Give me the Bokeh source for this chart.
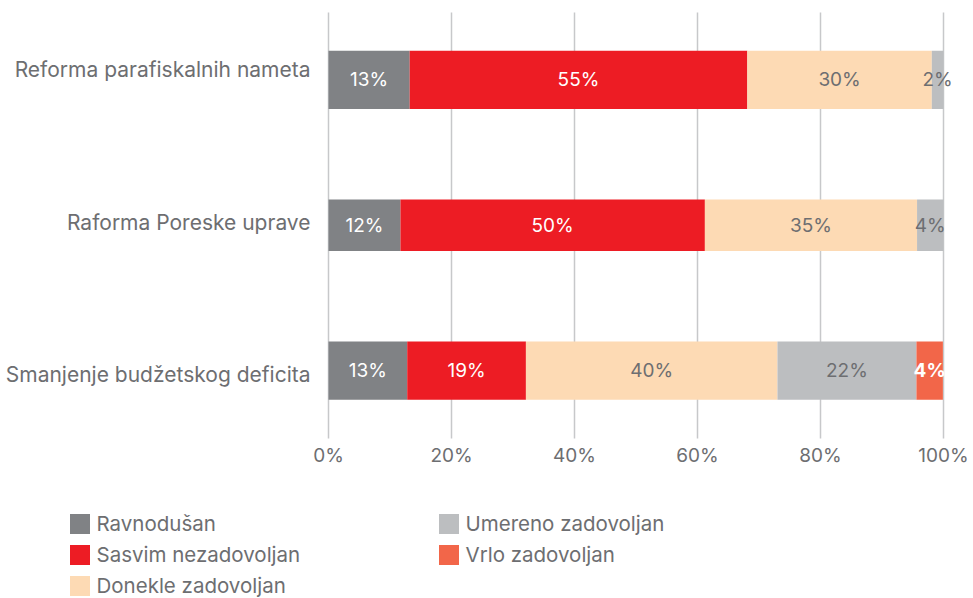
import numpy as np
from bokeh.plotting import figure
from bokeh.models import (ColumnDataSource, Range1d, FixedTicker, PrintfTickFormatter,
                          Legend, LegendItem, Grid, LinearAxis)
from bokeh.core.properties import value
from bokeh.embed import file_html
from bokeh.resources import INLINE

# ---------------- data ----------------
categories = ["Reforma parafiskalnih nameta", "Raforma Poreske uprave", "Smanjenje budžetskog deficita"]
series = ["Ravnodušan", "Sasvim nezadovoljan", "Donekle zadovoljan", "Umereno zadovoljan", "Vrlo zadovoljan"]
ravnodusan = [13.2, 11.7, 12.8]
sasvim_nezadovoljan = [54.9, 49.5, 19.3]
donekle_zadovoljan = [30.0, 34.5, 40.9]
umereno_zadovoljan = [1.9, 4.3, 22.6]
vrlo_zadovoljan = [0.0, 0.0, 4.3]
# printed labels in the bars
label_ravnodusan = ["13%", "12%", "13%"]
label_sasvim = ["55%", "50%", "19%"]
label_donekle = ["30%", "35%", "40%"]
label_umereno = ["2%", "4%", "22%"]
label_vrlo = ["", "", "4%"]
x_ticks = [0, 20, 40, 60, 80, 100]

# ---------------- styles / layout ----------------
colors = ["#808285", "#ED1C24", "#FDDAB4", "#BCBEC0", "#F26649"]
text_colors = ["white", "white", "#6D6E71", "#6D6E71", "white"]
text_styles = ["normal", "normal", "normal", "normal", "bold"]
bar_heights = [0.40, 0.355, 0.40]
GRAY = "#6D6E71"
FONT = "Inter"
W, H = 973, 598
PLOT_L, PLOT_R, PLOT_T, PLOT_B = 328, 943, 12, 438   # pixel box of the bar area
BAND_LO, BAND_HI = -0.467, 2.464                       # category band shown in that box
LABEL_TOP_PX, LABEL_BOTTOM_PX = 69, 374                # category label rows (pixels)

values = [ravnodusan, sasvim_nezadovoljan, donekle_zadovoljan, umereno_zadovoljan, vrlo_zadovoljan]
labels = [label_ravnodusan, label_sasvim, label_donekle, label_umereno, label_vrlo]

ypos = list(range(len(categories) - 1, -1, -1))  # top row first

# ranges so that the bar area sits at the pixel box while the frame fills the canvas
xpx = (PLOT_R - PLOT_L) / 100.0
ypx = (PLOT_B - PLOT_T) / (BAND_HI - BAND_LO)
x_range = Range1d(0 - PLOT_L / xpx, 100 + (W - PLOT_R) / xpx)
y_range = Range1d(BAND_LO - (H - PLOT_B) / ypx, BAND_HI + PLOT_T / ypx)
lpx = (LABEL_BOTTOM_PX - LABEL_TOP_PX) / (len(categories) - 1)
label_range = Range1d(0 - (H - LABEL_BOTTOM_PX) / lpx, (len(categories) - 1) + LABEL_TOP_PX / lpx)

p = figure(width=W, height=H, output_backend="svg", toolbar_location=None,
           x_range=x_range, y_range=y_range, y_axis_location=None,
           min_border_left=0, min_border_right=0, min_border_top=0, min_border_bottom=0)
p.extra_y_ranges = {"lab": label_range}
p.outline_line_color = None
p.background_fill_color = "white"

left = np.zeros(len(categories))
renderers = []
for i, name in enumerate(series):
    vals = np.array(values[i], dtype=float)
    right = left + vals
    src = ColumnDataSource(dict(y=ypos, left=left, right=right, h=bar_heights))
    renderers.append(p.hbar(y="y", left="left", right="right", height="h", source=src,
                            fill_color=colors[i], line_color=None))
    mask = [t != "" for t in labels[i]]
    lsrc = ColumnDataSource(dict(
        x=[(l + rr) / 2 for l, rr, m in zip(left, right, mask) if m],
        y=[yy for yy, m in zip(ypos, mask) if m],
        t=[t for t, m in zip(labels[i], mask) if m]))
    p.text(x="x", y="y", text="t", source=lsrc, text_align="center", text_baseline="middle",
           text_color=text_colors[i], text_font=value(FONT), text_font_size="19px",
           text_font_style=text_styles[i])
    left = right

# x axis (drawn at a fixed location inside the canvas)
p.xaxis.fixed_location = BAND_LO
p.xaxis.ticker = FixedTicker(ticks=x_ticks)
p.xaxis.formatter = PrintfTickFormatter(format="%d%%")
p.xaxis.axis_line_color = None
p.xaxis.major_tick_line_color = None
p.xaxis.minor_tick_line_color = None
p.xaxis.major_tick_out = 0
p.xaxis.major_label_standoff = 5
p.xaxis.major_label_text_font = FONT
p.xaxis.major_label_text_font_size = "19px"
p.xaxis.major_label_text_color = GRAY

# category axis
yax = LinearAxis(y_range_name="lab", fixed_location=0,
                 ticker=FixedTicker(ticks=ypos),
                 major_label_overrides={yy: c for yy, c in zip(ypos, categories)},
                 axis_line_color=None, major_tick_line_color=None, minor_tick_line_color=None,
                 major_tick_out=0, major_label_standoff=18,
                 major_label_text_font=FONT, major_label_text_font_size="21px",
                 major_label_text_color=GRAY)
p.add_layout(yax, "left")

p.ygrid.grid_line_color = None
p.ygrid.visible = False
if "cross_bounds" in Grid.properties():
    p.xgrid.ticker = FixedTicker(ticks=x_ticks)
    p.xgrid.cross_bounds = (BAND_LO, BAND_HI)
    p.xgrid.grid_line_color = "#C7C8CA"
    p.xgrid.grid_line_width = 1.5
    p.xgrid.level = "underlay"
else:
    p.xgrid.grid_line_color = None
    gsrc = ColumnDataSource(dict(x=x_ticks, y0=[BAND_LO] * len(x_ticks), y1=[BAND_HI] * len(x_ticks)))
    p.segment(x0="x", x1="x", y0="y0", y1="y1", source=gsrc, line_color="#C7C8CA",
              line_width=1.5, level="underlay")
for g in p.renderers:
    if isinstance(g, Grid) and g.dimension == 1:
        g.visible = False
for g in p.center:
    if isinstance(g, Grid) and g.dimension == 1:
        g.visible = False

items = [LegendItem(label=series[i], renderers=[renderers[i]]) for i in range(len(series))]


def make_legend(its, loc):
    return Legend(items=its, location=loc, orientation="vertical",
                  glyph_width=25, glyph_height=25, label_height=24,
                  label_standoff=5, spacing=6, padding=0, margin=0,
                  border_line_color=None, background_fill_alpha=0,
                  label_text_font=FONT, label_text_font_size="20.5px",
                  label_text_color=GRAY)


p.add_layout(make_legend(items[:3], (66.5, 0)), "center")
p.add_layout(make_legend(items[3:], (435.5, 31)), "center")

open("out.html", "w").write(file_html(p, INLINE))
